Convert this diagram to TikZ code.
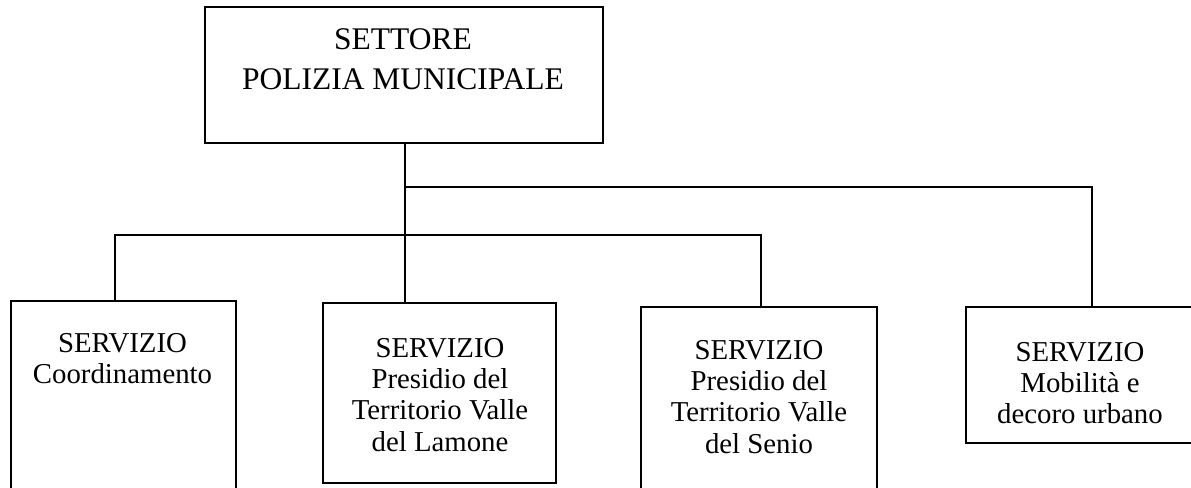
\documentclass[tikz,border=0pt]{standalone}
\usepackage{fontspec}
\setmainfont{Liberation Serif}
\begin{document}
\begin{tikzpicture}[x=0.5pt,y=-0.5pt,
  box/.style={draw=black,line width=1pt,rectangle,inner sep=0pt},
  toptext/.style={anchor=north,align=center,inner sep=0pt,font=\fontsize{15.75pt}{20pt}\selectfont},
  boxtext/.style={anchor=north,align=center,inner sep=0pt,font=\fontsize{14.4pt}{15.6pt}\selectfont},
  conn/.style={draw=black,line width=0.75pt}]
\useasboundingbox (0,0) rectangle (1191,488);
\clip (0,0) rectangle (1191,488);
\fill[white] (0,0) rectangle (1191,488);
% boxes
\node[box,minimum width=199pt,minimum height=68pt] (top) at (404,75) {};
\node[box,minimum width=112.5pt,minimum height=109.5pt] (b1) at (123.5,410.5) {};
\node[box,minimum width=116.5pt,minimum height=90pt] (b2) at (439.5,393) {};
\node[box,minimum width=118pt,minimum height=106.5pt] (b3) at (759,413.5) {};
\node[box,minimum width=115pt,minimum height=68pt] (b4) at (1081,375) {};
% texts
\node[toptext] (ttop) at (403,28) {SETTORE\\POLIZIA MUNICIPALE};
\node[boxtext] (t1) at (122.5,333) {SERVIZIO\\Coordinamento};
\node[boxtext] (t2) at (440,338) {SERVIZIO\\Presidio del\\Territorio Valle\\del Lamone};
\node[boxtext] (t3) at (759,340) {SERVIZIO\\Presidio del\\Territorio Valle\\del Senio};
\node[boxtext] (t4) at (1080,342) {SERVIZIO\\Mobilità e\\decoro urbano};
% connectors
\coordinate (ju) at (405,187);
\coordinate (c1) at (115,235);
\coordinate (c3) at (761,235);
\coordinate (c4) at (1092,187);
\draw[conn] (top.south -| ju) -- (ju |- b2.north);
\draw[conn] (ju) -- (c4) -- (c4 |- b4.north);
\draw[conn] (c1 |- b1.north) -- (c1) -- (c3) -- (c3 |- b3.north);
\end{tikzpicture}
\end{document}
